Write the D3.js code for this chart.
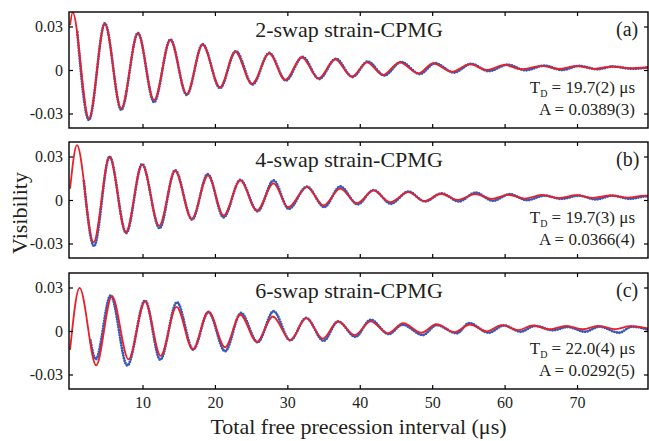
<!DOCTYPE html>
<html>
<head>
<meta charset="utf-8">
<script src="https://cdn.jsdelivr.net/npm/d3@7"></script>
<style>
  body { margin: 0; background: #fff; }
  text { font-family: "Liberation Serif", "Times New Roman", serif; fill: #231f20; }
</style>
</head>
<body>
<svg id="chart" width="649" height="441"></svg>
<script>
// tick values
const timeTicks = [10, 20, 30, 40, 50, 60, 70];
const visTicks = [-0.03, 0, 0.03];

// panel texts
const panelTitles = ["2-swap strain-CPMG", "4-swap strain-CPMG", "6-swap strain-CPMG"];
const panelTags = ["(a)", "(b)", "(c)"];
const decayTimes = ["19.7(2)", "19.7(3)", "22.0(4)"];
const amplitudes = ["0.0389(3)", "0.0366(4)", "0.0292(5)"];

// measured visibility, [time (us), visibility] read at the turning points
const measured2 = [[1.0,0.026],[2.6,-0.0345],[4.8,0.0322],[7.06,-0.0275],[9.37,0.0254],[11.6,-0.0222],
  [13.85,0.021],[16.1,-0.0172],[18.3,0.0178],[20.7,-0.0125],[22.9,0.013],[25.2,-0.01],[27.5,0.0117],
  [29.8,-0.0072],[32.1,0.009],[34.4,-0.0062],[36.7,0.0077],[39.0,-0.0048],[41.1,0.0058],[43.4,-0.0038],
  [45.7,0.0055],[48.3,-0.0028],[50.4,0.0047],[53.0,-0.0018],[55.4,0.0042],[57.8,-0.0008],[60.4,0.0036],
  [62.9,-0.0002],[65.5,0.003],[67.9,0.0],[70.3,0.0028],[72.8,0.0005],[75.0,0.0024],[77.6,0.0008],[80,0.0018]];
const measured4 = [[1.9,0.013],[3.3,-0.0318],[5.45,0.0298],[7.75,-0.0228],[9.95,0.0248],[12.35,-0.0195],
  [14.5,0.0205],[16.85,-0.0135],[19.0,0.0178],[21.2,-0.012],[23.5,0.0138],[25.9,-0.0078],[28.1,0.0135],
  [30.2,-0.0062],[32.7,0.0092],[35.1,-0.0049],[37.3,0.0093],[39.7,-0.003],[41.9,0.0068],[44.3,-0.0026],
  [46.7,0.0058],[49.0,-0.001],[51.3,0.0045],[53.7,-0.001],[56.0,0.005],[58.4,-0.0006],[60.7,0.004],
  [63.1,-0.0001],[65.5,0.003],[67.9,0.0008],[70.2,0.003],[72.6,0.0004],[74.9,0.003],[77.3,0.0008],
  [79.6,0.0026],[80,0.0025]];
const measured6 = [[2.8,-0.0063],[3.55,-0.0195],[5.6,0.0245],[7.9,-0.0238],[10.35,0.021],[12.45,-0.0198],
  [14.75,0.0198],[17.0,-0.0128],[19.1,0.013],[21.4,-0.014],[23.6,0.0124],[25.9,-0.0078],[28.1,0.0136],
  [30.4,-0.0065],[32.6,0.009],[35.0,-0.0068],[37.0,0.0066],[39.4,-0.004],[41.5,0.0077],[44.0,-0.0022],
  [45.9,0.0043],[48.7,-0.0028],[50.6,0.004],[53.4,-0.0016],[55.1,0.0054],[57.8,-0.0012],[59.9,0.0038],
  [62.2,-0.0005],[64.2,0.0035],[66.7,0.0005],[68.7,0.0028],[71.1,-0.0005],[73.1,0.003],[75.8,-0.0012],
  [77.6,0.003],[80,0.0005]];

// fitted curves, [time (us), visibility] read at the turning points
const fit2 = [[0,0.031],[0.35,0.0398],[2.6,-0.0335],[4.8,0.0319],[7.06,-0.0266],[9.37,0.0254],[11.6,-0.0208],
  [13.85,0.0208],[16.1,-0.0166],[18.3,0.0175],[20.7,-0.012],[22.8,0.0127],[25.1,-0.0097],[27.5,0.0115],
  [29.7,-0.0069],[32.0,0.0088],[34.3,-0.0058],[36.6,0.0074],[38.9,-0.0046],[41.0,0.0053],[43.2,-0.0035],
  [45.5,0.0053],[48.1,-0.0023],[50.1,0.0046],[52.7,-0.0012],[55.2,0.004],[57.5,0.0],[60.0,0.0035],
  [62.3,0.0005],[65.1,0.0028],[67.4,0.0007],[69.9,0.0027],[72.4,0.0008],[74.7,0.0023],[77.3,0.0012],[80,0.002]];
const fit4 = [[0,0.0078],[0.95,0.0378],[3.24,-0.0292],[5.45,0.0301],[7.7,-0.0223],[9.95,0.0244],[12.3,-0.0177],
  [14.5,0.02],[16.8,-0.013],[19.05,0.017],[21.2,-0.0107],[23.5,0.0135],[25.8,-0.0073],[28.1,0.0115],
  [30.1,-0.005],[32.7,0.0089],[35.0,-0.0038],[37.3,0.0078],[39.6,-0.0022],[41.9,0.0066],[44.2,-0.0015],
  [46.7,0.0054],[48.9,-0.0007],[51.2,0.0043],[53.5,0.0001],[55.9,0.0041],[58.2,0.0008],[60.5,0.0036],
  [62.8,0.001],[65.1,0.0035],[67.5,0.0013],[69.9,0.0033],[72.2,0.0015],[74.6,0.0031],[77.0,0.0016],
  [79.3,0.003],[80,0.0028]];
const fit6 = [[0,-0.013],[1.31,0.0297],[3.6,-0.0237],[5.78,0.0241],[8.07,-0.0195],[10.37,0.0204],[12.5,-0.0171],
  [14.7,0.0167],[16.95,-0.0128],[19.1,0.0136],[21.4,-0.0112],[23.5,0.0112],[25.8,-0.0075],[28.0,0.01],
  [30.4,-0.0063],[32.6,0.0089],[34.9,-0.0052],[37.0,0.0066],[39.3,-0.0028],[41.5,0.0066],[43.9,-0.0015],
  [46.0,0.0054],[48.5,-0.0012],[50.6,0.0047],[53.1,-0.0008],[55.2,0.0045],[57.5,-0.0002],[59.6,0.004],
  [61.9,0.0006],[63.9,0.0038],[66.2,0.0011],[68.5,0.0035],[70.8,0.0012],[72.9,0.0035],[75.4,0.0013],
  [77.3,0.0033],[80,0.0016]];

const measuredSets = [measured2, measured4, measured6];
const fitSets = [fit2, fit4, fit6];

const svg = d3.select("#chart");
const left = 69, right = 648;
const panelTop = [12, 142, 273], panelH = 116;

const x = d3.scaleLinear().domain([-0.15, 79.8]).range([left, right]);

panelTop.forEach((top, i) => {
    const y = d3.scaleLinear().domain([-0.04, 0.04]).range([top + panelH, top]);
    const g = svg.append("g");

    g.append("clipPath").attr("id", "clip" + i)
        .append("rect")
        .attr("x", left).attr("y", top)
        .attr("width", right - left).attr("height", panelH);

    const line = d3.line()
        .x(d => x(d[0]))
        .y(d => y(d[1]))
        .curve(d3.curveMonotoneX);

    const plot = g.append("g").attr("clip-path", `url(#clip${i})`);

    // measured points (dotted)
    plot.append("path")
        .attr("d", line(measuredSets[i]))
        .attr("fill", "none")
        .attr("stroke", "#3a5ab8")
        .attr("stroke-width", 2.9)
        .attr("stroke-linecap", "round")
        .attr("stroke-dasharray", "0 2.6");

    // fit
    plot.append("path")
        .attr("d", line(fitSets[i]))
        .attr("fill", "none")
        .attr("stroke", "#e8202a")
        .attr("stroke-width", 1.8);

    // axes, ticks pointing inward
    const yl = g.append("g").attr("transform", `translate(${left},0)`)
        .call(d3.axisLeft(y).tickValues(visTicks).tickSize(-4).tickPadding(6)
            .tickFormat(d => d === 0 ? "0" : String(d)));
    const yr = g.append("g").attr("transform", `translate(${right},0)`)
        .call(d3.axisRight(y).tickValues(visTicks).tickSize(-4).tickFormat(""));
    const xt = g.append("g").attr("transform", `translate(0,${top})`)
        .call(d3.axisTop(x).tickValues(timeTicks).tickSize(-4).tickFormat(""));
    const xb = g.append("g").attr("transform", `translate(0,${top + panelH})`)
        .call(d3.axisBottom(x).tickValues(timeTicks).tickSize(-4).tickPadding(8)
            .tickFormat(i === 2 ? d3.format("d") : ""));

    [yl, yr, xt, xb].forEach(a => {
        a.select(".domain").remove();
        a.selectAll(".tick line").attr("stroke", "#000").attr("stroke-width", 1.2);
        a.selectAll(".tick text").style("font-size", "16px").attr("fill", "#231f20")
            .style("font-family", '"Liberation Serif", serif');
    });

    g.append("rect")
        .attr("x", left).attr("y", top)
        .attr("width", right - left).attr("height", panelH)
        .attr("fill", "none").attr("stroke", "#000").attr("stroke-width", 1.4);

    g.append("text")
        .attr("x", 349).attr("y", top + 24.5)
        .attr("text-anchor", "middle")
        .style("font-size", "22px")
        .text(panelTitles[i]);

    g.append("text")
        .attr("x", 616).attr("y", top + 24)
        .style("font-size", "20px")
        .text(panelTags[i]);

    const td = g.append("text")
        .attr("x", 635).attr("y", top + 81)
        .attr("text-anchor", "end")
        .style("font-size", "17px");
    td.append("tspan").text("T");
    td.append("tspan").attr("dy", 4).style("font-size", "10px").text("D");
    td.append("tspan").attr("dy", -4).text(" = " + decayTimes[i] + " \u03bcs");

    g.append("text")
        .attr("x", 635).attr("y", top + 103)
        .attr("text-anchor", "end")
        .style("font-size", "17px")
        .text("A = " + amplitudes[i]);
});

svg.append("text")
    .attr("x", (left + right) / 2).attr("y", 434)
    .attr("text-anchor", "middle")
    .style("font-size", "22px")
    .text("Total free precession interval (\u03bcs)");

svg.append("text")
    .attr("transform", "translate(27,213) rotate(-90)")
    .attr("text-anchor", "middle")
    .style("font-size", "22px")
    .text("Visibility");
</script>
</body>
</html>
